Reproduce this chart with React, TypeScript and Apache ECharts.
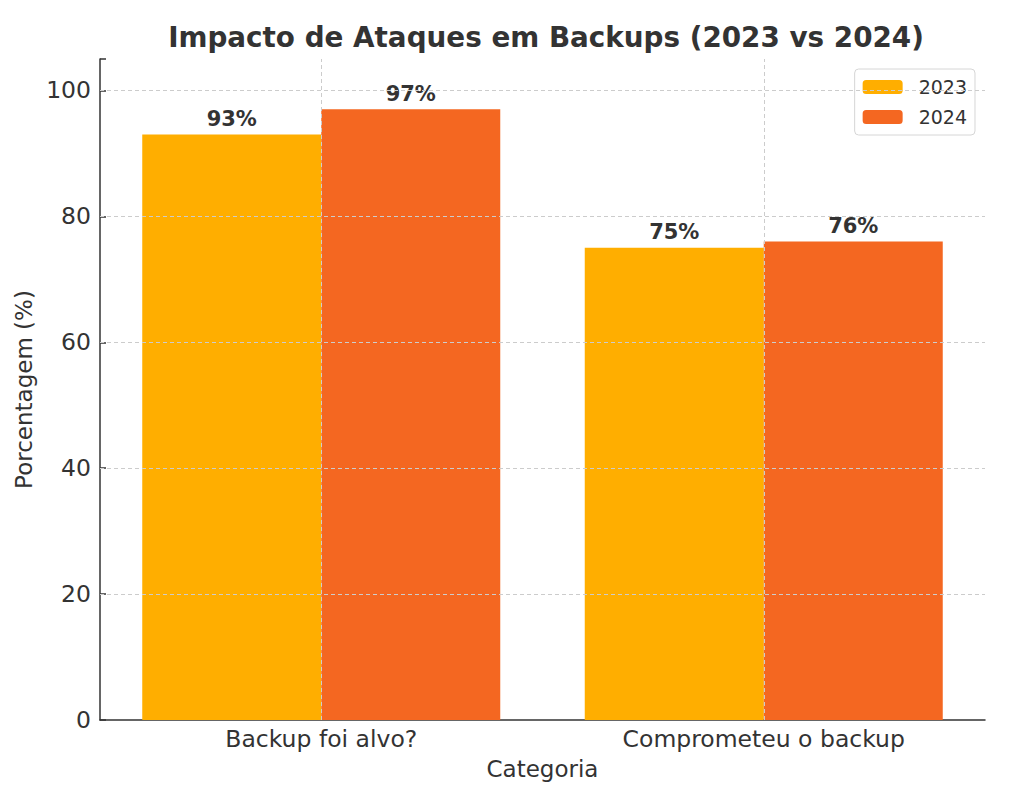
import { useEffect, useRef } from 'react';
import * as echarts from 'echarts';

const categories = ['Backup foi alvo?', 'Comprometeu o backup'];
const values2023 = [93, 75];
const values2024 = [97, 76];
const yTicks = [0, 20, 40, 60, 80, 100];

const FONT = '"DejaVu Sans", sans-serif';
const TEXT = '#333333';

const App = () => {
  const chartRef = useRef<HTMLDivElement>(null);

  useEffect(() => {
    if (!chartRef.current) return;
    const chart = echarts.init(chartRef.current, undefined, { renderer: 'svg' });

    const gridStyle = { color: '#cccccc', width: 1, type: [4, 3] as number[] };

    const barLabel = {
      show: true,
      position: 'top',
      distance: 5,
      formatter: '{c}%',
      fontFamily: FONT,
      fontSize: 21,
      fontWeight: 'bold',
      color: TEXT,
    };

    chart.setOption({
      animation: false,
      textStyle: { fontFamily: FONT, color: TEXT },
      title: {
        text: 'Impacto de Ataques em Backups (2023 vs 2024)',
        left: 541,
        top: 18,
        textAlign: 'center',
        textStyle: { fontFamily: FONT, fontSize: 27.8, fontWeight: 'bold', color: TEXT },
      },
      legend: {
        data: ['2023', '2024'],
        orient: 'vertical',
        right: 49,
        top: 69,
        itemWidth: 40,
        itemHeight: 14,
        itemGap: 8,
        padding: [7, 8, 7, 8],
        borderColor: '#d6d6d6',
        borderWidth: 1,
        borderRadius: 4,
        backgroundColor: '#ffffff',
        textStyle: { fontFamily: FONT, fontSize: 19, color: TEXT, padding: [0, 0, 0, 11], lineHeight: 22 },
      },
      grid: { left: 100, right: 39, top: 59, bottom: 75 },
      xAxis: {
        type: 'category',
        data: categories,
        name: 'Categoria',
        nameLocation: 'middle',
        nameGap: 37,
        nameTextStyle: { fontFamily: FONT, fontSize: 23, color: TEXT },
        axisLine: { lineStyle: { color: TEXT, width: 1.5 } },
        axisTick: { alignWithLabel: true, inside: true, length: 5, lineStyle: { color: TEXT, width: 1.5 } },
        axisLabel: { fontFamily: FONT, fontSize: 23.5, color: TEXT, margin: 7 },
        splitLine: { show: false },
      },
      yAxis: {
        type: 'value',
        min: 0,
        max: 105,
        interval: 20,
        name: 'Porcentagem (%)',
        nameLocation: 'middle',
        nameGap: 63,
        nameTextStyle: { fontFamily: FONT, fontSize: 23, color: TEXT },
        axisLine: { show: true, lineStyle: { color: TEXT, width: 1.5 } },
        axisTick: { show: true, inside: true, length: 6, lineStyle: { color: TEXT, width: 1.5 } },
        axisLabel: {
          fontFamily: FONT,
          fontSize: 23.5,
          color: TEXT,
          margin: 9,
          formatter: (v: number) => (yTicks.includes(v) ? String(v) : ''),
        },
        splitLine: { show: false },
      },
      series: [
        {
          name: 'grid',
          type: 'line',
          data: [],
          z: 1,
          silent: true,
          markLine: {
            silent: true,
            symbol: 'none',
            label: { show: false },
            lineStyle: gridStyle,
            data: [
              ...yTicks.filter((v) => v > 0).map((v) => ({ yAxis: v })),
              ...categories.map((c) => ({ xAxis: c })),
            ],
          },
        },
        {
          name: '2023',
          type: 'bar',
          data: values2023,
          barWidth: 179,
          barGap: '0%',
          z: 3,
          itemStyle: { color: '#FFAE00' },
          label: barLabel,
        },
        {
          name: '2024',
          type: 'bar',
          data: values2024,
          barWidth: 179,
          barGap: '0%',
          z: 3,
          itemStyle: { color: '#F46721' },
          label: barLabel,
        },
      ],
    });

    return () => {
      chart.dispose();
    };
  }, []);

  return (
    <div
      ref={chartRef}
      style={{ position: 'absolute', left: 0, top: 0, width: '1024px', height: '795px', background: '#fff' }}
    />
  );
};

export default App;
